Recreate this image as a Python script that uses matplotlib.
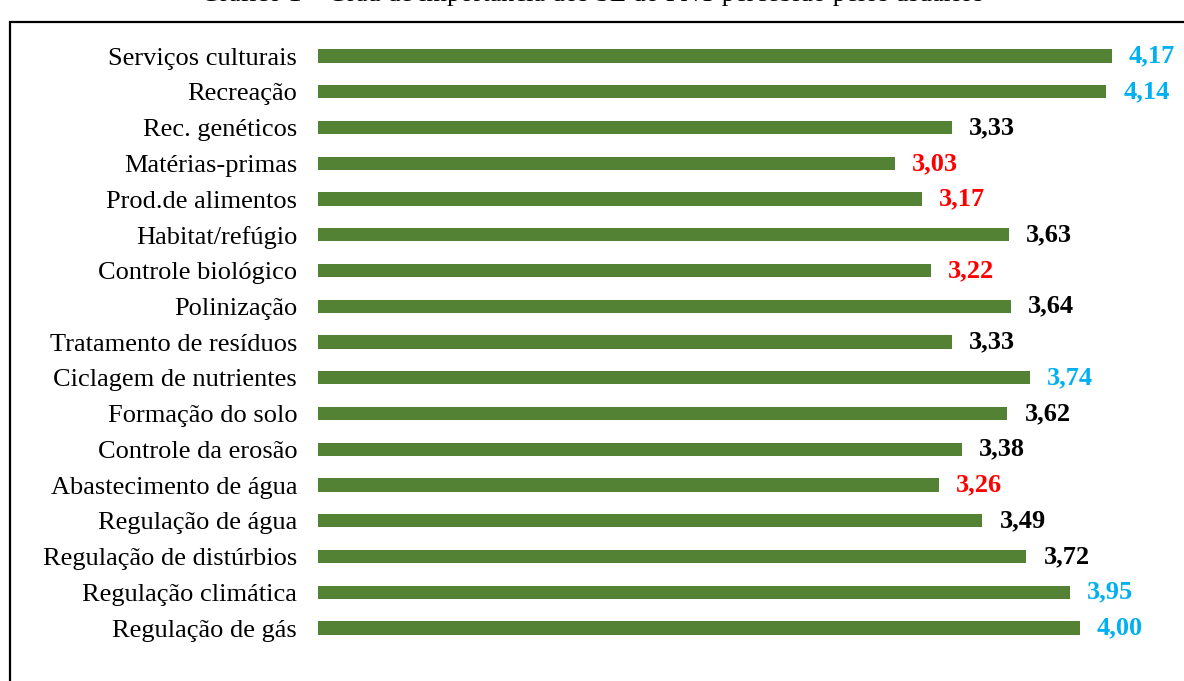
import matplotlib.pyplot as plt
from matplotlib.patches import Rectangle

categorias = ["Serviços culturais", "Recreação", "Rec. genéticos", "Matérias-primas",
              "Prod.de alimentos", "Habitat/refúgio", "Controle biológico", "Polinização",
              "Tratamento de resíduos", "Ciclagem de nutrientes", "Formação do solo",
              "Controle da erosão", "Abastecimento de água", "Regulação de água",
              "Regulação de distúrbios", "Regulação climática", "Regulação de gás"]
valores = [4.17, 4.14, 3.33, 3.03, 3.17, 3.63, 3.22, 3.64, 3.33, 3.74, 3.62,
           3.38, 3.26, 3.49, 3.72, 3.95, 4.00]
rotulos = ["4,17", "4,14", "3,33", "3,03", "3,17", "3,63", "3,22", "3,64", "3,33",
           "3,74", "3,62", "3,38", "3,26", "3,49", "3,72", "3,95", "4,00"]
cores_rotulo = ["#00B0F0", "#00B0F0", "black", "#FF0000", "#FF0000", "black", "#FF0000",
                "black", "black", "#00B0F0", "black", "black", "#FF0000", "black",
                "black", "#00B0F0", "#00B0F0"]

plt.rcParams['font.family'] = ['Liberation Serif', 'DejaVu Serif']

fig = plt.figure(figsize=(11.84, 6.81), dpi=100)
ax = fig.add_axes([318 / 1184, 1 - 660 / 681, 866 / 1184, 630 / 681])

n = len(categorias)
pos = [n - 1 - i for i in range(n)]
ax.barh(pos, valores, height=0.37, color="#548235")

for p, v, r, c in zip(pos, valores, rotulos, cores_rotulo):
    ax.text(v + 0.09, p, r, va="center", ha="left", fontsize=19,
            fontweight="bold", color=c)

ax.set_yticks(pos)
ax.set_yticklabels(categorias, fontsize=19)
ax.tick_params(axis="y", length=0, pad=15)
ax.set_xticks([])
ax.set_xlim(0, 866 / 190.4)
ax.set_ylim(-0.895, 16.73)
for s in ax.spines.values():
    s.set_visible(False)

# moldura
fig.patches.append(Rectangle((10 / 1184, -0.2), 1.2, 1.2 - 22 / 681,
                             transform=fig.transFigure, fill=False,
                             edgecolor="black", linewidth=1.6))

# titulo cortado no topo, como no original
fig.text(0.5, 1 - 1 / 681, "Gráfico 1 – Grau de importância dos SE do PNT percebido pelos usuários",
         ha="center", va="baseline", fontsize=19)

fig.savefig("out.png", dpi=100)
